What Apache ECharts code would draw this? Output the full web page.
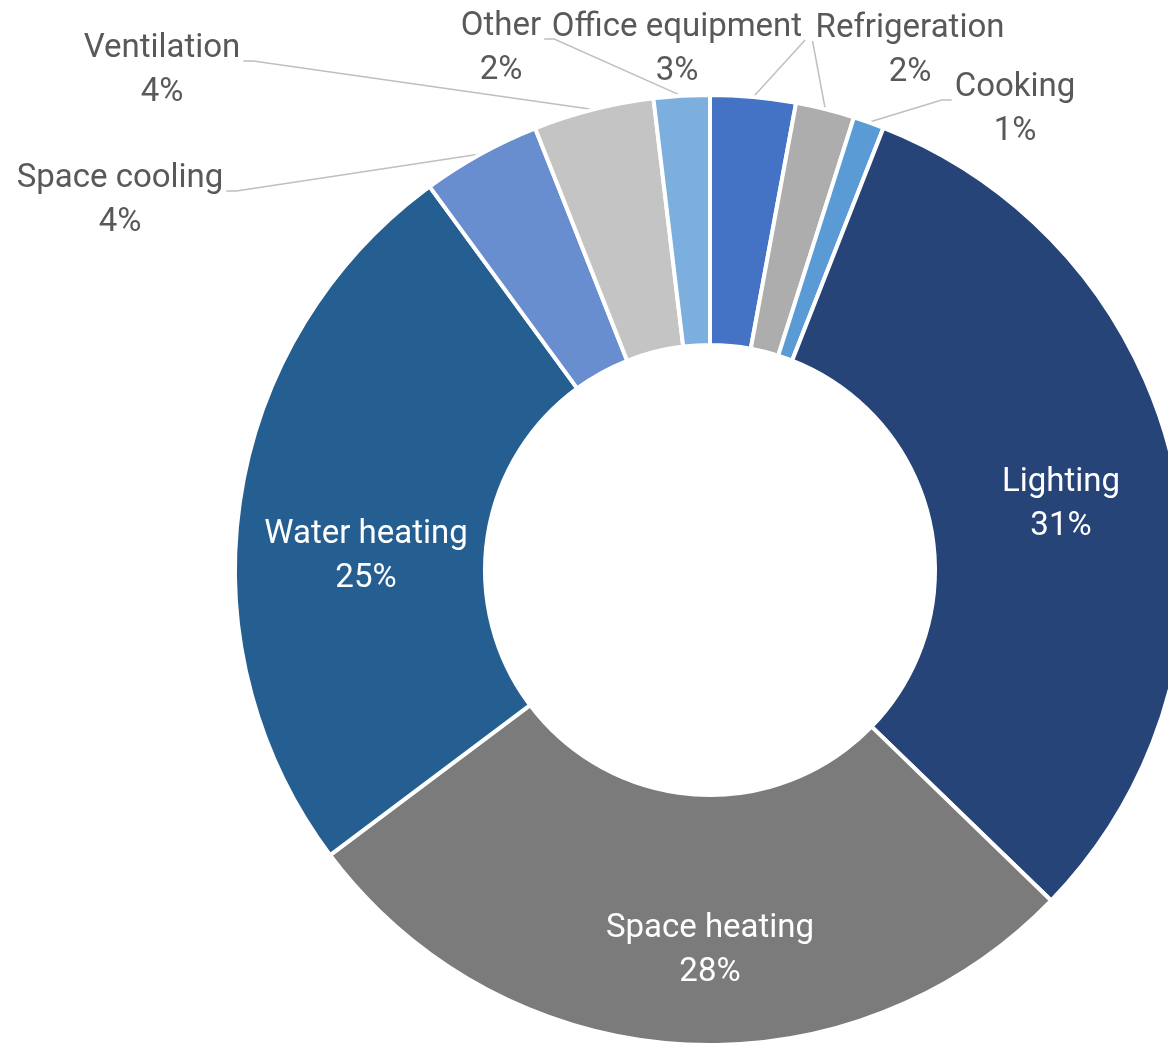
<!DOCTYPE html>
<html>
<head>
<meta charset="utf-8">
<script src="https://cdn.jsdelivr.net/npm/echarts@6/dist/echarts.min.js"></script>
<style>
  html, body { margin: 0; padding: 0; background: #fff; }
  #chart { width: 1168px; height: 1051px; }
</style>
</head>
<body>
<div id="chart"></div>
<script>
// end uses, clockwise from 12 o'clock
const categories = ['Office equipment', 'Refrigeration', 'Cooking', 'Lighting', 'Space heating',
  'Water heating', 'Space cooling', 'Ventilation', 'Other']
// share of consumption (%)
const shares = [2.9, 2.0, 1.05, 31.3, 27.5, 25.2, 4.05, 4.1, 1.9]
const colors = ['#4472C4', '#ADADAD', '#5B9BD5', '#264478', '#7B7B7B', '#255E91', '#698ED0', '#C4C4C4', '#7CAFDD']

// big slices carry their label inside the ring
const insideLabels = ['Lighting', 'Space heating', 'Water heating']
// label block centres
const labelAt = {
  'Office equipment': [677, 50],
  'Refrigeration': [910, 51],
  'Cooking': [1015, 110],
  'Lighting': [1061, 505],
  'Space heating': [710, 951],
  'Water heating': [366, 557],
  'Space cooling': [120, 201],
  'Ventilation': [162, 71],
  'Other': [501, 49]
}

let data = categories.map(function (name, i) {
  let item = { name: name, value: shares[i], itemStyle: { color: colors[i] } }
  if (insideLabels.indexOf(name) >= 0) {
    item.label = { position: 'inside', color: '#ffffff' }
    item.labelLine = { show: false }
  }
  return item
})

let myChart = echarts.init(document.getElementById('chart'))
myChart.setOption({
  animation: false,
  backgroundColor: '#ffffff',
  series: [
    {
      type: 'pie',
      center: [710, 570],
      radius: [225, 475],
      startAngle: 90,
      clockwise: true,
      avoidLabelOverlap: false,
      silent: true,
      itemStyle: { borderColor: '#ffffff', borderWidth: 4 },
      label: {
        show: true,
        position: 'outside',
        color: '#595959',
        fontFamily: 'Roboto',
        fontSize: 33,
        lineHeight: 44,
        formatter: function (p) {
          return p.name + '\n' + Math.round(p.percent) + '%'
        }
      },
      labelLine: {
        show: true,
        length: 10,
        length2: 10,
        lineStyle: { color: '#BFBFBF', width: 1.5 }
      },
      labelLayout: function (p) {
        let name = categories[p.dataIndex]
        let c = labelAt[name]
        let res = { x: c[0], y: c[1], align: 'center', verticalAlign: 'middle' }
        let pts = p.labelLinePoints
        if (pts && insideLabels.indexOf(name) < 0) {
          // leader: from the arc to the first line of the label, on the side facing the slice
          let start = pts[0]
          let half = p.labelRect.width / 2
          let right = start[0] > c[0]
          let endX = right ? c[0] + half + 3 : c[0] - half - 3
          let endY = c[1] - 10
          let elbowX = right ? endX + 10 : endX - 10
          let line = [start]
          if (right ? start[0] > elbowX : start[0] < elbowX) line.push([elbowX, endY])
          line.push([endX, endY])
          res.labelLinePoints = line
        }
        return res
      },
      data: data
    }
  ]
})
</script>
</body>
</html>
